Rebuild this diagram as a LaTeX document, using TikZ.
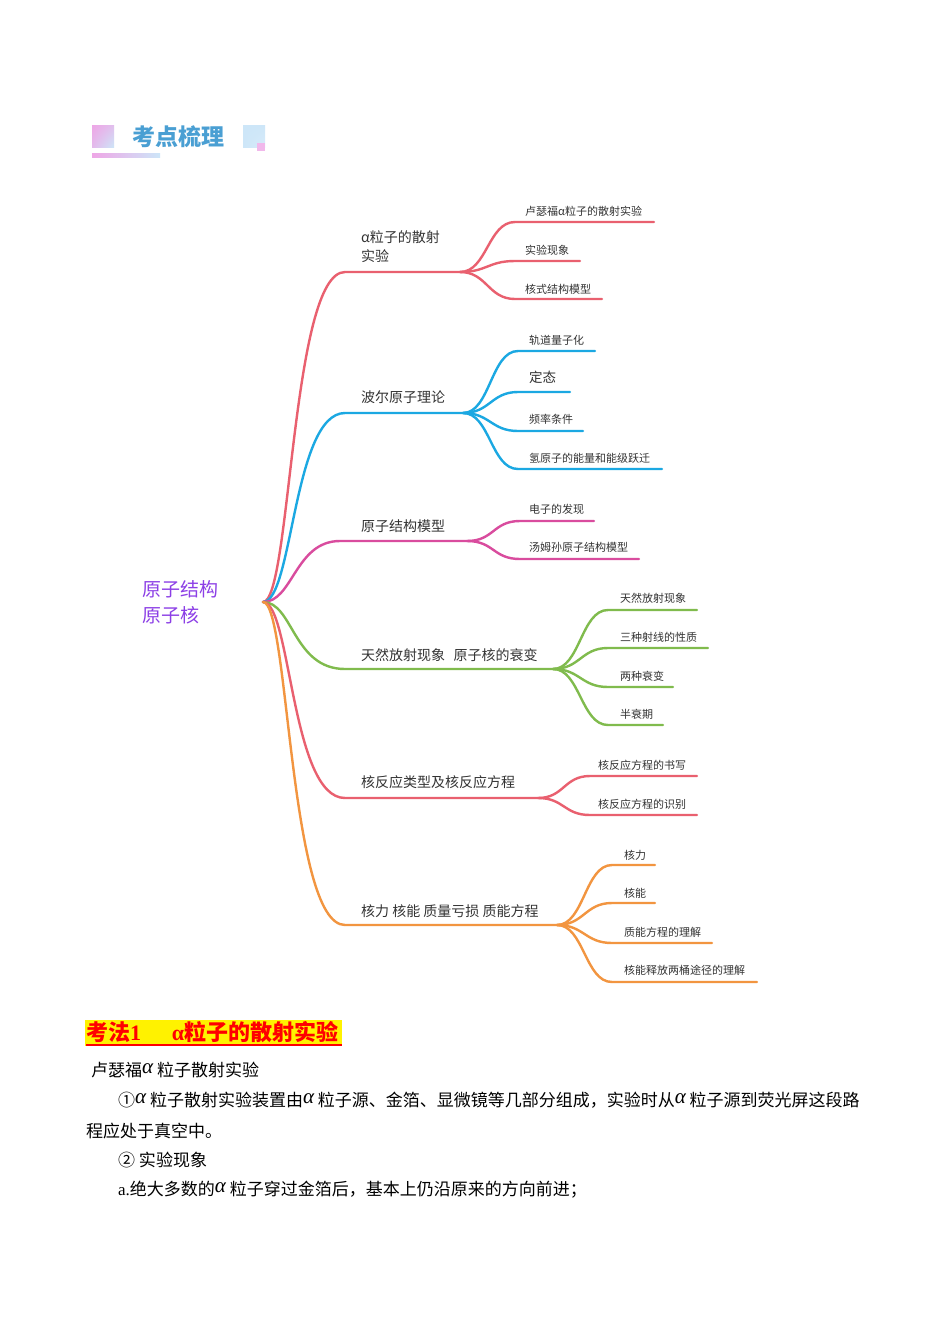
\documentclass[tikz,border=0pt]{standalone}
\usepackage{fontspec}
\usetikzlibrary{shadings}
\setmainfont{Liberation Serif}
\newfontfamily\cjk{Noto Sans CJK SC}
\definecolor{cred}{HTML}{E9606F}
\definecolor{cblue}{HTML}{1BA8E2}
\definecolor{cmag}{HTML}{D94C9E}
\definecolor{cgreen}{HTML}{80BB4D}
\definecolor{corange}{HTML}{F29540}
\definecolor{cpurple}{HTML}{8C3FE6}
\definecolor{hdrblue}{HTML}{4A9FD3}
\definecolor{hpink}{HTML}{EEA6E6}
\definecolor{hlblue}{HTML}{CDE6F8}
\definecolor{txt}{HTML}{333333}
\newcommand\alf{\raisebox{3pt}{\fontsize{21}{21}\selectfont\rmfamily\itshape α}}
\begin{document}
\begin{tikzpicture}[x=1pt,y=-1pt,
  br/.style={line width=2.4pt,line cap=round},
  mainlbl/.style={anchor=west,inner sep=0pt,align=left,text=txt,font=\cjk\fontsize{14}{19}\selectfont},
  kidlbl/.style={anchor=west,inner sep=0pt,text=txt,font=\cjk\fontsize{11}{13}\selectfont},
  body/.style={anchor=west,inner sep=0pt,text=black,font=\cjk\fontsize{17}{20}\selectfont}]
\useasboundingbox (0,0) rectangle (950,1344);
\fill[white] (0,0) rectangle (950,1344);
% header
\shade[upper left=hpink,upper right=hpink!60!hlblue,lower left=hpink!70!hlblue,lower right=hlblue] (92,125) rectangle (114,147);
\shade[left color=hpink,right color=hlblue] (92,153) rectangle (160,157);
\shade[upper left=hlblue,upper right=hlblue,lower left=hlblue,lower right=hlblue!80!white] (243,125) rectangle (265,147);
\fill[hpink!80!white] (257,143) rectangle (265,151);
\node[anchor=west,inner sep=0pt,text=hdrblue,font=\cjk\bfseries\fontsize{23}{25}\selectfont] (hdr) at (132,137) {考点梳理};
% root
\coordinate (root) at (263,602);
\node[anchor=west,inner sep=0pt,align=left,text=cpurple,font=\cjk\fontsize{19}{26}\selectfont] (rootlbl) at (142,602) {原子结构\\原子核};
% branch 1
\coordinate (m1) at (345,272); \coordinate (f1) at (460,272);
\draw[br,cred] (root) .. controls +(28,0) and +(-54,0) .. (m1) -- (f1);
\node[mainlbl] (l1) at (361,247) {α粒子的散射\\实验};
\coordinate (k11) at (515,222); \coordinate (k11e) at (654,222);
\coordinate (k12) at (515,261); \coordinate (k12e) at (580,261);
\coordinate (k13) at (515,299); \coordinate (k13e) at (602,299);
\draw[br,cred] (f1) .. controls +(27,0) and +(-27,0) .. (k11) -- (k11e);
\draw[br,cred] (f1) .. controls +(27,0) and +(-27,0) .. (k12) -- (k12e);
\draw[br,cred] (f1) .. controls +(27,0) and +(-27,0) .. (k13) -- (k13e);
\node[kidlbl] (t11) at (525,211) {卢瑟福α粒子的散射实验};
\node[kidlbl] (t12) at (525,250) {实验现象};
\node[kidlbl] (t13) at (525,289) {核式结构模型};
% branch 2
\coordinate (m2) at (345,413); \coordinate (f2) at (463,413);
\draw[br,cblue] (root) .. controls +(30,0) and +(-52,0) .. (m2) -- (f2);
\node[mainlbl] (l2) at (361,397) {波尔原子理论};
\coordinate (k21) at (518,351); \coordinate (k21e) at (595,351);
\coordinate (k22) at (518,392); \coordinate (k22e) at (570,392);
\coordinate (k23) at (518,431); \coordinate (k23e) at (583,431);
\coordinate (k24) at (518,469); \coordinate (k24e) at (662,469);
\foreach \k in {k21,k22,k23,k24}{\draw[br,cblue] (f2) .. controls +(27,0) and +(-27,0) .. (\k) -- (\k e);}
\node[kidlbl] (t21) at (529,340) {轨道量子化};
\node[kidlbl,font=\cjk\fontsize{13.5}{15}\selectfont] (t22) at (529,377) {定态};
\node[kidlbl] (t23) at (529,419) {频率条件};
\node[kidlbl] (t24) at (529,458) {氢原子的能量和能级跃迁};
% branch 3
\coordinate (m3) at (340,541); \coordinate (f3) at (467,541);
\draw[br,cmag] (root) .. controls +(30,0) and +(-45,0) .. (m3) -- (f3);
\node[mainlbl] (l3) at (361,526) {原子结构模型};
\coordinate (k31) at (520,521); \coordinate (k31e) at (594,521);
\coordinate (k32) at (520,559); \coordinate (k32e) at (639,559);
\foreach \k in {k31,k32}{\draw[br,cmag] (f3) .. controls +(27,0) and +(-27,0) .. (\k) -- (\k e);}
\node[kidlbl] (t31) at (529,509) {电子的发现};
\node[kidlbl] (t32) at (529,547) {汤姆孙原子结构模型};
% branch 4
\coordinate (m4) at (345,669); \coordinate (f4) at (553,669);
\draw[br,cgreen] (root) .. controls +(30,0) and +(-52,0) .. (m4) -- (f4);
\node[mainlbl] (l4) at (361,655) {天然放射现象\hspace{0.6em}原子核的衰变};
\coordinate (k41) at (608,610); \coordinate (k41e) at (697,610);
\coordinate (k42) at (608,648); \coordinate (k42e) at (708,648);
\coordinate (k43) at (608,687); \coordinate (k43e) at (673,687);
\coordinate (k44) at (608,725); \coordinate (k44e) at (663,725);
\foreach \k in {k41,k42,k43,k44}{\draw[br,cgreen] (f4) .. controls +(27,0) and +(-27,0) .. (\k) -- (\k e);}
\node[kidlbl] (t41) at (620,598) {天然放射现象};
\node[kidlbl] (t42) at (620,637) {三种射线的性质};
\node[kidlbl] (t43) at (620,676) {两种衰变};
\node[kidlbl] (t44) at (620,714) {半衰期};
% branch 5
\coordinate (m5) at (345,798); \coordinate (f5) at (538,798);
\draw[br,cred] (root) .. controls +(28,0) and +(-54,0) .. (m5) -- (f5);
\node[mainlbl] (l5) at (361,782) {核反应类型及核反应方程};
\coordinate (k51) at (590,776); \coordinate (k51e) at (697,776);
\coordinate (k52) at (590,815); \coordinate (k52e) at (697,815);
\foreach \k in {k51,k52}{\draw[br,cred] (f5) .. controls +(26,0) and +(-26,0) .. (\k) -- (\k e);}
\node[kidlbl] (t51) at (598,765) {核反应方程的书写};
\node[kidlbl] (t52) at (598,804) {核反应方程的识别};
% branch 6
\coordinate (m6) at (345,925); \coordinate (f6) at (557,925);
\draw[br,corange] (root) .. controls +(26,0) and +(-56,0) .. (m6) -- (f6);
\node[mainlbl] (l6) at (361,911) {核力 核能 质量亏损 质能方程};
\coordinate (k61) at (612,865); \coordinate (k61e) at (655,865);
\coordinate (k62) at (612,903); \coordinate (k62e) at (655,903);
\coordinate (k63) at (612,943); \coordinate (k63e) at (712,943);
\coordinate (k64) at (612,982); \coordinate (k64e) at (757,982);
\foreach \k in {k61,k62,k63,k64}{\draw[br,corange] (f6) .. controls +(27,0) and +(-27,0) .. (\k) -- (\k e);}
\node[kidlbl] (t61) at (624,855) {核力};
\node[kidlbl] (t62) at (624,893) {核能};
\node[kidlbl] (t63) at (624,932) {质能方程的理解};
\node[kidlbl] (t64) at (624,970) {核能释放两桶途径的理解};
% bottom text
\fill[yellow] (85,1020) rectangle (342,1046);
\node[anchor=west,inner sep=0pt,text=red,font=\cjk\bfseries\fontsize{22}{25}\selectfont] (head) at (86,1032) {考法{\rmfamily 1}\hspace{1.4em}{\rmfamily α}粒子的散射实验};
\draw[red,line width=1.2pt] (86,1045) -- (342,1045);
\node[body] (p1) at (91,1070) {卢瑟福\alf{} 粒子散射实验};
\node[body] (p2) at (118,1100) {①\alf{} 粒子散射实验装置由\alf{} 粒子源、金箔、显微镜等几部分组成，实验时从\alf{} 粒子源到荧光屏这段路};
\node[body] (p3) at (86,1131) {程应处于真空中。};
\node[body] (p4) at (118,1160) {② 实验现象};
\node[body] (p5) at (118,1190) {{\rmfamily a.}绝大多数的\alf{} 粒子穿过金箔后，基本上仍沿原来的方向前进；};
\end{tikzpicture}
\end{document}
